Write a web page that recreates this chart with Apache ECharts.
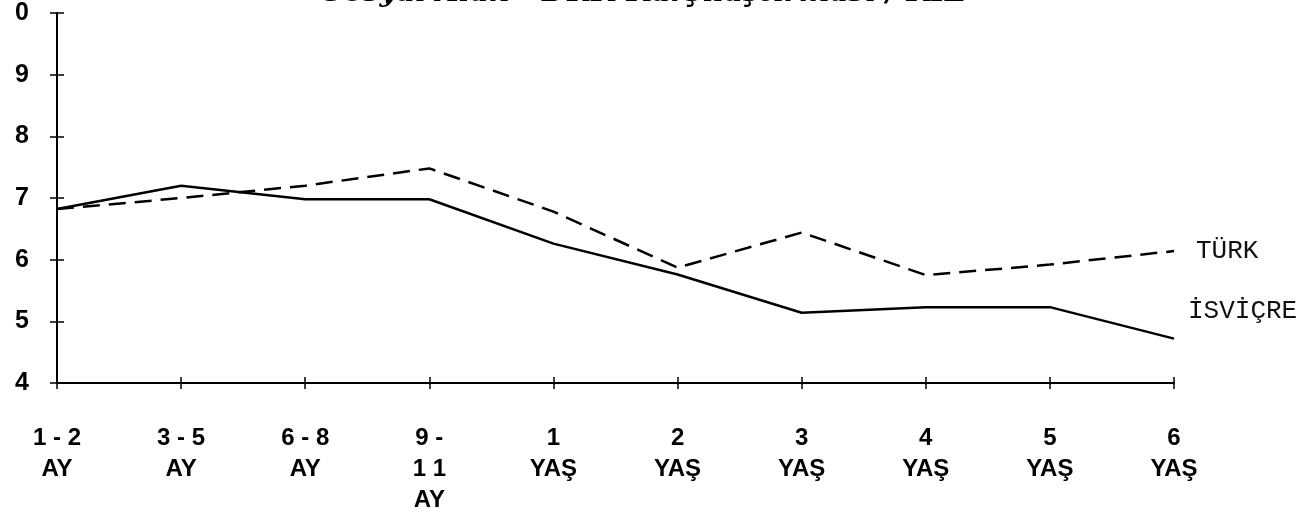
<!DOCTYPE html>
<html>
<head>
<meta charset="utf-8">
<script src="https://cdn.jsdelivr.net/npm/echarts@6/dist/echarts.min.js"></script>
<style>
    html, body { margin: 0; padding: 0; background: #fff; }
    #chart { width: 1307px; height: 526px; }
</style>
</head>
<body>
<div id="chart"></div>
<script>
// kategoriler (x ekseni)
const categories = ['1 - 2\nAY', '3 - 5\nAY', '6 - 8\nAY', '9 -\n1 1\nAY', '1\nYAŞ', '2\nYAŞ', '3\nYAŞ', '4\nYAŞ', '5\nYAŞ', '6\nYAŞ']
// seri değerleri
const isvicre = [6.82, 7.2, 6.98, 6.98, 6.26, 5.76, 5.14, 5.23, 5.23, 4.72]
const turk = [6.82, 7.0, 7.2, 7.48, 6.78, 5.87, 6.44, 5.75, 5.92, 6.14]
// y ekseni etiketleri (resimde görünen hali)
const yTickLabels = {4: '4', 5: '5', 6: '6', 7: '7', 8: '8', 9: '9', 10: '0'}
const titleText = 'Sosyal Alan - DRK Karşılaştırması / KIZ'

const axisFont = {
    fontFamily: '"Liberation Sans", Arial, sans-serif',
    fontWeight: 'bold',
    color: '#000'
}

const myChart = echarts.init(document.getElementById('chart'))

let option = {
    animation: false,
    backgroundColor: '#fff',
    title: {
        text: titleText,
        left: 318,
        top: -26,
        textStyle: {
            fontFamily: '"DejaVu Serif", serif',
            fontStyle: 'italic',
            fontWeight: 'bold',
            fontSize: 29,
            color: '#000'
        }
    },
    grid: {
        left: 57,
        right: 133,
        top: 13,
        bottom: 143
    },
    xAxis: [
        {
            type: 'category',
            boundaryGap: false,
            data: categories,
            axisLine: {lineStyle: {color: '#000', width: 2}},
            axisTick: {show: true, length: 6, lineStyle: {color: '#000', width: 1.5}},
            axisLabel: {
                ...axisFont,
                fontSize: 24,
                lineHeight: 31,
                margin: 40,
                interval: 0
            }
        },
        {
            // karşı yönde tik çizgileri için
            type: 'category',
            boundaryGap: false,
            data: categories,
            position: 'bottom',
            axisLine: {show: false},
            axisTick: {show: true, inside: true, length: 6, lineStyle: {color: '#000', width: 1.5}},
            axisLabel: {show: false}
        }
    ],
    yAxis: [
        {
            type: 'value',
            min: 4,
            max: 10,
            interval: 1,
            splitLine: {show: false},
            axisLine: {show: true, lineStyle: {color: '#000', width: 2}},
            axisTick: {show: true, length: 7, lineStyle: {color: '#000', width: 1.5}},
            axisLabel: {
                ...axisFont,
                fontSize: 25,
                margin: 28,
                formatter: (v) => yTickLabels[v]
            }
        },
        {
            type: 'value',
            min: 4,
            max: 10,
            interval: 1,
            position: 'left',
            splitLine: {show: false},
            axisLine: {show: false},
            axisTick: {show: true, inside: true, length: 7, lineStyle: {color: '#000', width: 1.5}},
            axisLabel: {show: false}
        }
    ],
    series: [
        {
            name: 'İSVİÇRE',
            type: 'line',
            data: isvicre,
            symbol: 'none',
            lineStyle: {color: '#000', width: 2.5},
            endLabel: {
                show: true,
                formatter: 'İSVİÇRE',
                distance: 0,
                offset: [14, -27],
                fontFamily: '"Liberation Mono", "Courier New", monospace',
                fontSize: 26,
                color: '#111'
            }
        },
        {
            name: 'TÜRK',
            type: 'line',
            data: turk,
            symbol: 'none',
            lineStyle: {color: '#000', width: 2.5, type: [17, 9]},
            endLabel: {
                show: true,
                formatter: 'TÜRK',
                distance: 0,
                offset: [22, 0],
                fontFamily: '"Liberation Mono", "Courier New", monospace',
                fontSize: 26,
                color: '#111'
            }
        }
    ]
}

myChart.setOption(option)
</script>
</body>
</html>
